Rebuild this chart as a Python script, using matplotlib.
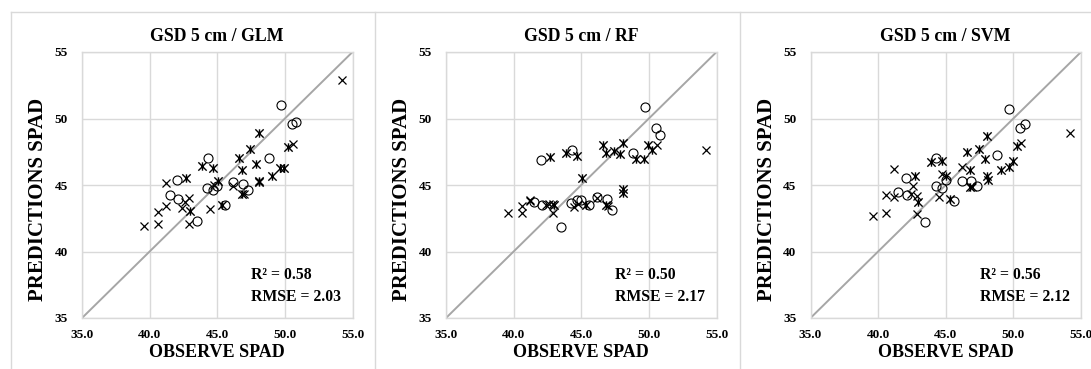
import matplotlib
matplotlib.use("Agg")
import matplotlib.pyplot as plt
from matplotlib.path import Path
from matplotlib.lines import Line2D

plt.rcParams['font.family'] = ['Liberation Serif', 'DejaVu Serif']
plt.rcParams['font.weight'] = 'bold'

titles = ["GSD 5 cm / GLM", "GSD 5 cm / RF", "GSD 5 cm / SVM"]
r2_values = ["0.58", "0.50", "0.56"]
rmse_values = ["2.03", "2.17", "2.12"]

# Group 1 (cross markers): observed SPAD and predictions per model
obs_x = [39.6, 40.6, 40.6, 41.2, 41.2, 42.4, 42.6, 42.9, 42.9, 44.5, 44.75, 46.2, 46.95, 50.6, 54.2]
glm_x = [41.95, 43.0, 42.05, 45.15, 43.45, 43.25, 43.7, 44.05, 42.05, 43.2, 45.0, 44.9, 44.3, 48.1, 52.9]
rf_x = [42.87, 43.42, 42.87, 43.9, 43.8, 43.5, 43.55, 43.55, 42.9, 43.35, 43.6, 44.05, 43.4, 48.04, 47.65]
svm_x = [42.65, 44.28, 42.93, 46.18, 44.08, 44.3, 44.96, 44.14, 42.8, 44.13, 45.83, 46.33, 44.85, 48.15, 48.9]

# Group 2 (star markers)
obs_s = [42.7, 42.95, 43.9, 44.7, 45.05, 45.35, 46.6, 46.8, 46.8, 47.45, 47.9, 48.05, 48.05, 48.1,
         49.05, 49.65, 49.95, 50.25]
glm_s = [45.5, 43.05, 46.4, 46.3, 45.3, 43.5, 47.0, 46.1, 44.35, 47.7, 46.6, 48.9, 45.3, 45.25,
         45.7, 46.3, 46.3, 47.85]
rf_s = [47.1, 43.5, 47.4, 47.18, 45.52, 43.5, 48.04, 47.4, 43.5, 47.52, 47.35, 48.17, 44.7, 44.4,
        46.98, 46.98, 48.04, 47.65]
svm_s = [45.68, 43.7, 46.7, 46.78, 45.68, 43.95, 47.5, 46.15, 44.85, 47.7, 46.93, 48.7, 45.7, 45.4,
         46.15, 46.38, 46.8, 47.9]

# Group 3 (circle markers)
obs_o = [41.5, 42.05, 42.1, 43.5, 44.25, 44.3, 44.7, 45.0, 45.6, 46.2, 46.9, 47.3, 48.8, 49.7, 50.5, 50.85]
glm_o = [44.25, 45.4, 43.95, 42.3, 44.75, 47.0, 44.6, 44.95, 43.5, 45.25, 45.1, 44.65, 47.0, 51.05, 49.55, 49.75]
rf_o = [43.71, 46.9, 43.47, 41.86, 43.64, 47.65, 43.84, 43.89, 43.46, 44.1, 43.96, 43.12, 47.43, 50.87, 49.28, 48.76]
svm_o = [44.48, 45.53, 44.25, 42.2, 44.9, 47.03, 44.78, 45.38, 43.83, 45.28, 45.28, 44.93, 47.25, 50.68, 49.3, 49.55]

pred_x = [glm_x, rf_x, svm_x]
pred_s = [glm_s, rf_s, svm_s]
pred_o = [glm_o, rf_o, svm_o]

axis_ticks = [35, 40, 45, 50, 55]

# asterisk-style marker: a cross with a vertical bar through it
star_path = Path(
    [(-1, -1), (1, 1), (-1, 1), (1, -1), (0, -1), (0, 1)],
    [Path.MOVETO, Path.LINETO, Path.MOVETO, Path.LINETO, Path.MOVETO, Path.LINETO],
)

grid_c = "#d9d9d9"
fig = plt.figure(figsize=(10.91, 3.69), dpi=100)

lefts = [82 / 1091, 446 / 1091, 810.5 / 1091]
width = 270.5 / 1091
bottom = (369 - 318) / 369
height = 266 / 369

for i in range(3):
    ax = fig.add_axes([lefts[i], bottom, width, height])
    ax.set_xlim(35, 55)
    ax.set_ylim(35, 55)
    ax.set_xticks(axis_ticks)
    ax.set_yticks(axis_ticks)
    ax.set_xticklabels([f"{t:.1f}" for t in axis_ticks])
    ax.set_yticklabels([f"{t}" for t in axis_ticks])
    ax.tick_params(axis='x', length=0, labelsize=9.5, pad=8)
    ax.tick_params(axis='y', length=0, labelsize=9.5, pad=10)
    for lab in ax.get_xticklabels() + ax.get_yticklabels():
        lab.set_fontweight('bold')
    ax.grid(True, color=grid_c, linewidth=1.0)
    ax.set_axisbelow(True)
    for sp in ax.spines.values():
        sp.set_color(grid_c)
        sp.set_linewidth(1.0)

    ax.plot([35, 55], [35, 55], color="#a6a6a6", linewidth=1.4, zorder=2)

    ax.plot(obs_x, pred_x[i], linestyle='none', marker='x', markersize=5.5,
            markeredgewidth=0.9, color='black', zorder=3)
    ax.plot(obs_s, pred_s[i], linestyle='none', marker=star_path, markersize=6,
            markeredgewidth=1.0, color='black', zorder=3)
    ax.plot(obs_o, pred_o[i], linestyle='none', marker='o', markersize=6.5,
            markerfacecolor='none', markeredgewidth=0.8, markeredgecolor='black', zorder=3)

    ax.set_title(titles[i], fontsize=12.8, fontweight='bold', pad=8)
    ax.set_xlabel("OBSERVE SPAD", fontsize=13, fontweight='bold', labelpad=2)
    ax.set_ylabel("PREDICTIONS SPAD", fontsize=15, fontweight='bold')
    ax.yaxis.set_label_coords(-34 / 270.5, 0.447)

    ax.text(0.625, 0.16, f"R\u00b2 = {r2_values[i]}", transform=ax.transAxes,
            fontsize=11.3, fontweight='bold', va='center', ha='left')
    ax.text(0.625, 0.08, f"RMSE = {rmse_values[i]}", transform=ax.transAxes,
            fontsize=11.3, fontweight='bold', va='center', ha='left')

# panel frames
H = 369.0
W = 1091.0
top_y = 1 - 12 / H
fig.add_artist(Line2D([11 / W, 1.0], [top_y, top_y], color=grid_c, linewidth=1.0))
for xp in [11, 375, 740]:
    fig.add_artist(Line2D([xp / W, xp / W], [0, top_y], color=grid_c, linewidth=1.0))

fig.savefig("out.png", dpi=100)
